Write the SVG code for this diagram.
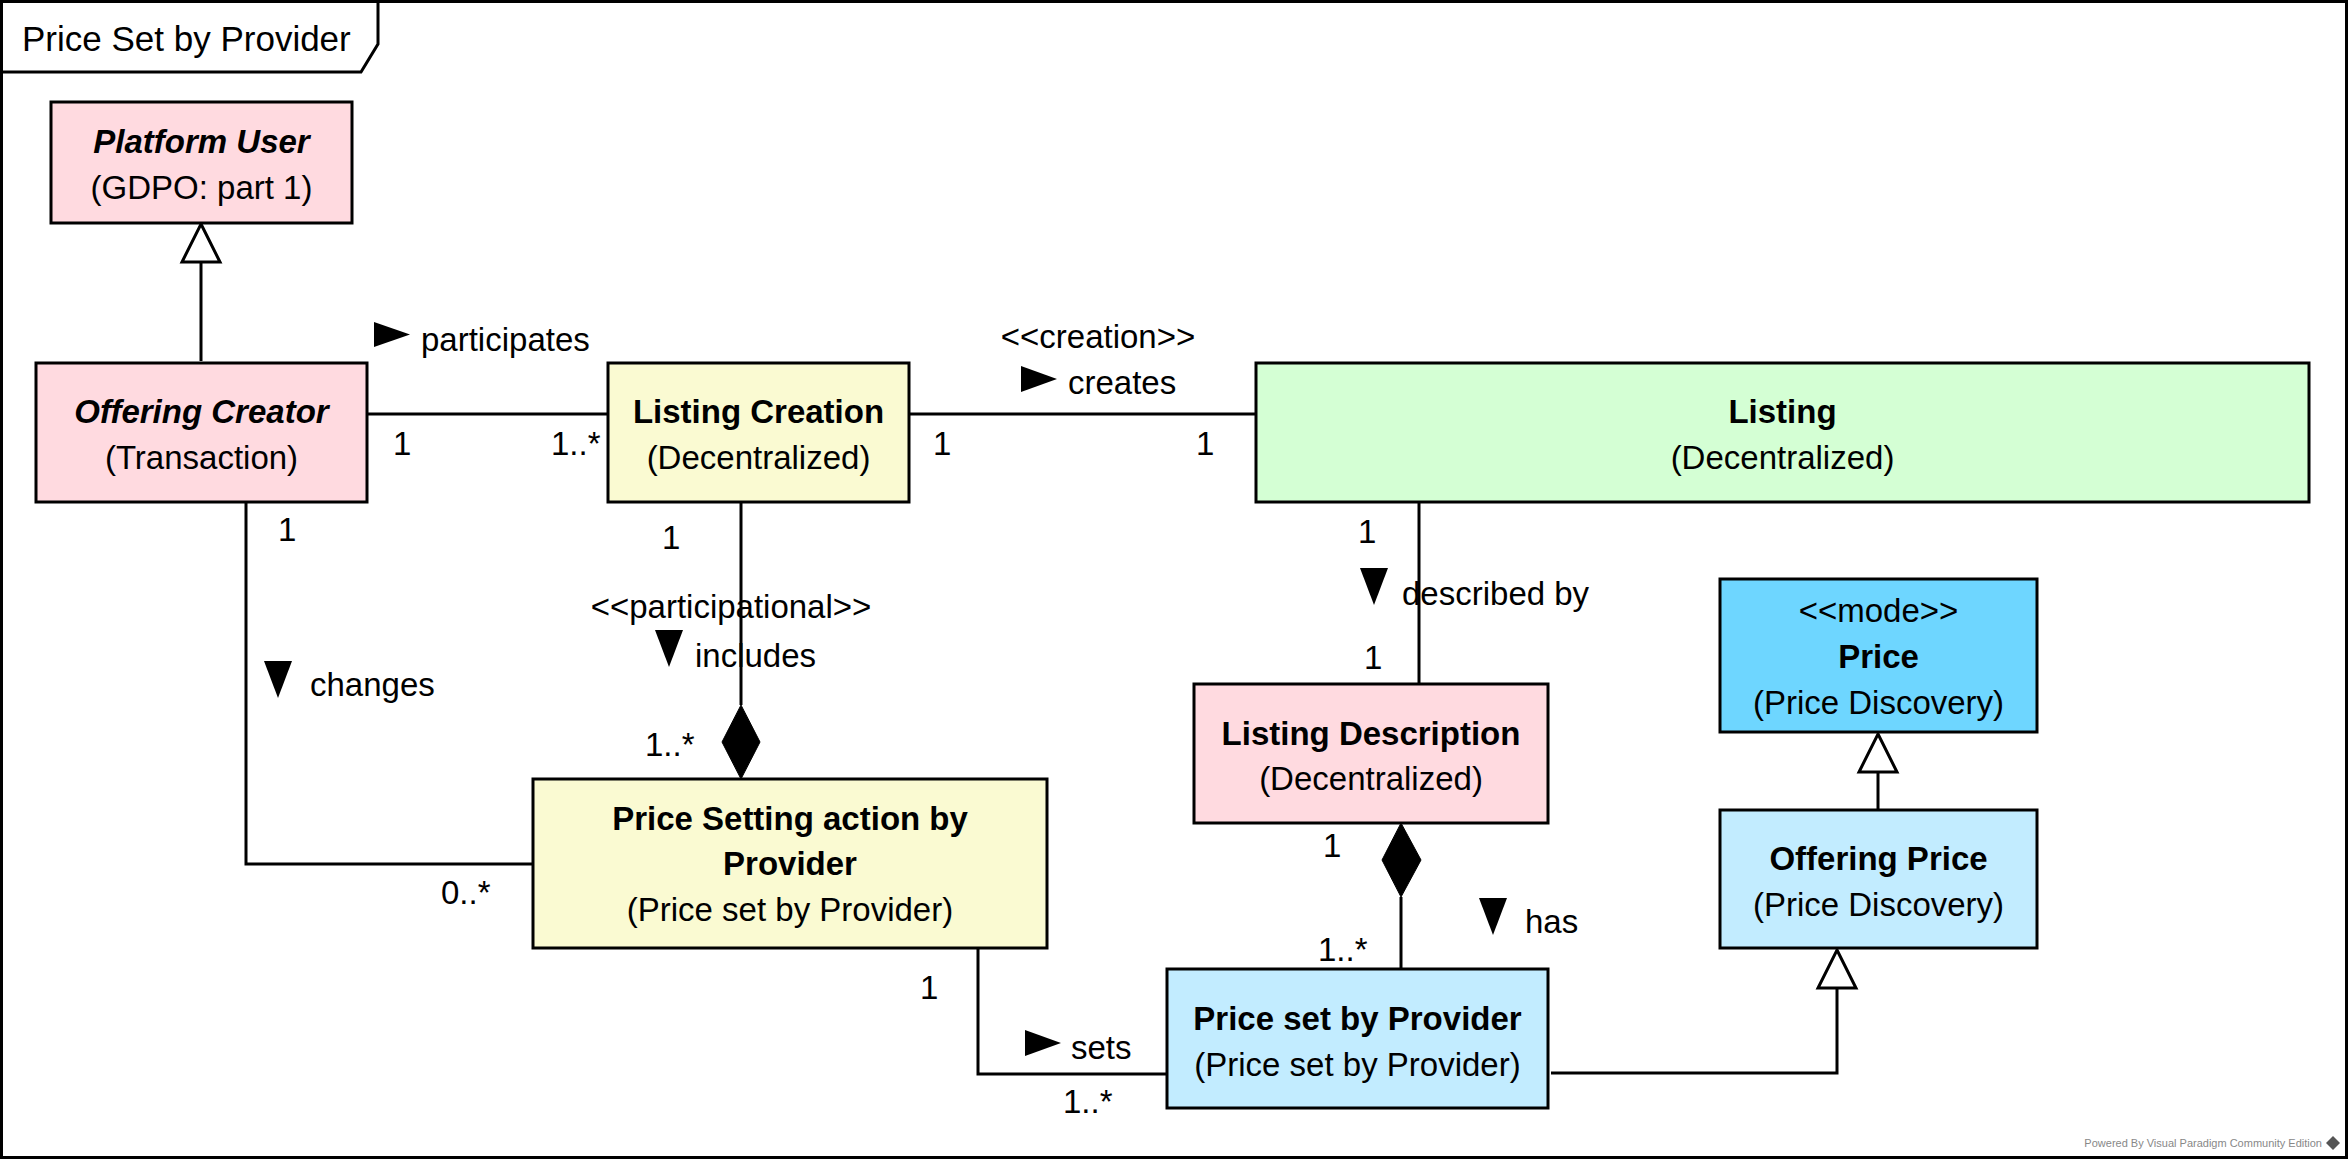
<svg xmlns="http://www.w3.org/2000/svg" width="2349" height="1161" viewBox="0 0 2349 1161">
<style>
text{font-family:"Liberation Sans",Arial,sans-serif;font-size:33px;fill:#000}
.c{text-anchor:middle}
.b{font-weight:bold}
.bi{font-weight:bold;font-style:italic}
.box{stroke:#000;stroke-width:3}
.pink{fill:#FFDAE0}
.yel{fill:#FAFAD2}
.grn{fill:#D4FFD4}
.blu{fill:#6ED6FF}
.lblu{fill:#C2ECFF}
.ln{fill:none;stroke:#000;stroke-width:3}
.gen{fill:#fff;stroke:#000;stroke-width:3;stroke-linejoin:miter}
.dia{fill:#000;stroke:#000;stroke-width:1}
.dir{fill:#000}
</style>
<rect x="0" y="0" width="2349" height="1161" fill="#fff"/>
<g id="frame">
<rect x="1.5" y="1.5" width="2345" height="1156" fill="none" stroke="#000" stroke-width="3"/>
<path d="M1.5,72 L361,72 L378,44 L378,1.5" fill="none" stroke="#000" stroke-width="3"/>
<text x="22" y="51" style="font-size:35px">Price Set by Provider</text>
</g>
<g id="connectors">
<path class="ln" d="M201,361 L201,262"/>
<path class="gen" d="M201,224 L220,262 L182,262 Z"/>
<path class="ln" d="M367,414 L608,414"/>
<path class="ln" d="M909,414 L1256,414"/>
<path class="ln" d="M246,502 L246,864 L533,864"/>
<path class="ln" d="M741,502 L741,705"/>
<path class="dia" d="M741,705 L760,742 L741,779 L722,742 Z"/>
<path class="ln" d="M1419,502 L1419,684"/>
<path class="dia" d="M1401,823 L1421,860 L1401,897 L1382,860 Z"/>
<path class="ln" d="M1401,897 L1401,969"/>
<path class="ln" d="M978,948 L978,1074 L1167,1074"/>
<path class="ln" d="M1878,810 L1878,772"/>
<path class="gen" d="M1878,734 L1897,772 L1859,772 Z"/>
<path class="ln" d="M1551,1073 L1837,1073 L1837,988"/>
<path class="gen" d="M1837,950 L1856,988 L1818,988 Z"/>
<path class="dir" d="M374,322 L410,334.5 L374,347 Z"/>
<text x="421" y="351">participates</text>
<text x="1098" y="348" class="c">&lt;&lt;creation&gt;&gt;</text>
<path class="dir" d="M1021,366 L1057,379 L1021,392 Z"/>
<text x="1068" y="394">creates</text>
<path class="dir" d="M264,661 L292,661 L278,698 Z"/>
<text x="310" y="696">changes</text>
<text x="731" y="618" class="c">&lt;&lt;participational&gt;&gt;</text>
<path class="dir" d="M655,630 L683,630 L669,667 Z"/>
<text x="695" y="667">includes</text>
<path class="dir" d="M1360,568 L1388,568 L1374,605 Z"/>
<text x="1402" y="605">described by</text>
<path class="dir" d="M1479,898 L1507,898 L1493,935 Z"/>
<text x="1525" y="933">has</text>
<path class="dir" d="M1025,1030 L1061,1043 L1025,1056 Z"/>
<text x="1071" y="1059">sets</text>
<text x="393" y="455">1</text>
<text x="551" y="455">1..*</text>
<text x="933" y="455">1</text>
<text x="1196" y="455">1</text>
<text x="278" y="541">1</text>
<text x="662" y="549">1</text>
<text x="645" y="756">1..*</text>
<text x="441" y="904">0..*</text>
<text x="920" y="999">1</text>
<text x="1063" y="1113">1..*</text>
<text x="1358" y="543">1</text>
<text x="1364" y="669">1</text>
<text x="1323" y="857">1</text>
<text x="1318" y="961">1..*</text>
</g>
<g id="platform-user">
<rect class="box pink" x="51" y="102" width="301" height="121"/>
<text x="201.5" y="153" class="c bi">Platform User</text>
<text x="201.5" y="199" class="c">(GDPO: part 1)</text>
</g>
<g id="offering-creator">
<rect class="box pink" x="36" y="363" width="331" height="139"/>
<text x="201.5" y="423" class="c bi">Offering Creator</text>
<text x="201.5" y="469" class="c">(Transaction)</text>
</g>
<g id="listing-creation">
<rect class="box yel" x="608" y="363" width="301" height="139"/>
<text x="758.5" y="423" class="c b">Listing Creation</text>
<text x="758.5" y="469" class="c">(Decentralized)</text>
</g>
<g id="listing">
<rect class="box grn" x="1256" y="363" width="1053" height="139"/>
<text x="1782.5" y="423" class="c b">Listing</text>
<text x="1782.5" y="469" class="c">(Decentralized)</text>
</g>
<g id="price-setting-action">
<rect class="box yel" x="533" y="779" width="514" height="169"/>
<text x="790" y="830" class="c b">Price Setting action by</text>
<text x="790" y="875" class="c b">Provider</text>
<text x="790" y="921" class="c">(Price set by Provider)</text>
</g>
<g id="listing-description">
<rect class="box pink" x="1194" y="684" width="354" height="139"/>
<text x="1371" y="745" class="c b">Listing Description</text>
<text x="1371" y="790" class="c">(Decentralized)</text>
</g>
<g id="price-set-by-provider">
<rect class="box lblu" x="1167" y="969" width="381" height="139"/>
<text x="1357.5" y="1030" class="c b">Price set by Provider</text>
<text x="1357.5" y="1076" class="c">(Price set by Provider)</text>
</g>
<g id="price">
<rect class="box blu" x="1720" y="579" width="317" height="153"/>
<text x="1878.5" y="622" class="c">&lt;&lt;mode&gt;&gt;</text>
<text x="1878.5" y="668" class="c b">Price</text>
<text x="1878.5" y="714" class="c">(Price Discovery)</text>
</g>
<g id="offering-price">
<rect class="box lblu" x="1720" y="810" width="317" height="138"/>
<text x="1878.5" y="870" class="c b">Offering Price</text>
<text x="1878.5" y="916" class="c">(Price Discovery)</text>
</g>
<g id="watermark">
<text x="2322" y="1147" style="font-size:11px;fill:#888;text-anchor:end">Powered By Visual Paradigm Community Edition</text>
<path d="M2333,1136 L2340,1143 L2333,1150 L2326,1143 Z" fill="#555"/>
</g>
</svg>
